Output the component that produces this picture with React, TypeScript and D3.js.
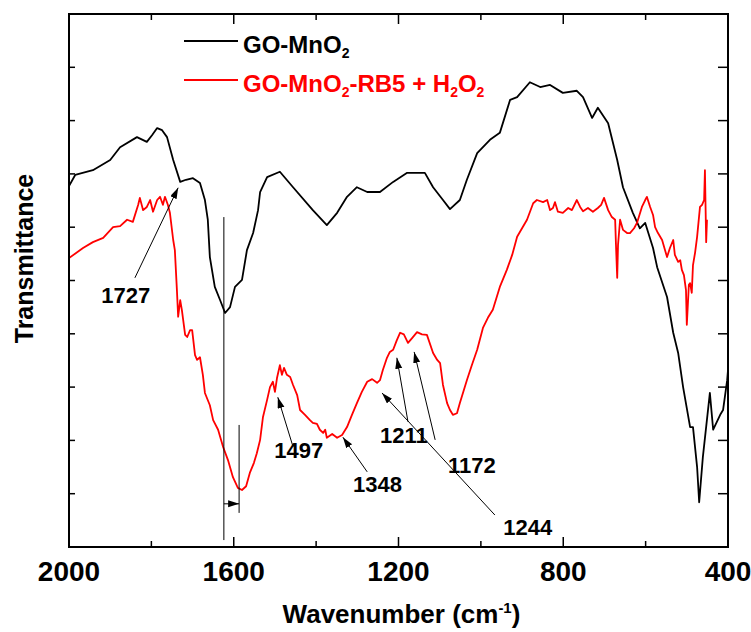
import React from "react";
import * as d3 from "d3";

// ---- data (wavenumber cm^-1, transmittance a.u.) ----
const blackWn = [2000,1985,1942,1900,1876,1835,1811,1798,1786,1774,1762,1747,1730,1716,1699,1682,1670,1663,1658,1646,1633,1621,1609,1597,1580,1568,1553,1541,1536,1519,1488,1456,1408,1374,1349,1325,1301,1276,1245,1213,1179,1165,1136,1116,1092,1075,1051,1034,1009,978,954,929,912,881,856,832,801,767,752,730,716,691,669,655,631,614,601,582,572,548,533,521,509,492,485,475,470,461,444,436,419,412,402,400];
const blackT = [67.7,69.8,70.7,72.6,75.0,76.9,76.0,77.3,78.6,78.2,76.9,72.6,68.5,68.9,69.2,68.3,65.1,61.4,54.4,48.8,46.3,43.9,45.0,48.8,50.1,55.7,58.9,63.2,66.6,69.4,70.4,67.5,63.2,60.4,62.7,65.7,67.5,66.6,66.6,68.5,70.2,70.2,70.2,67.5,65.1,63.4,65.1,68.9,73.9,76.4,77.7,83.9,84.4,87.2,86.3,86.7,85.2,85.6,84.4,80.5,82.4,79.5,72.6,67.5,62.7,59.8,60.8,56.1,52.5,46.9,40.2,36.4,30.0,22.5,22.5,15.0,8.4,16.9,28.9,22.0,24.8,25.7,31.3,33.2];

const redWn = [2000,1966,1942,1917,1893,1876,1859,1845,1832,1828,1820,1811,1803,1796,1786,1779,1772,1767,1760,1755,1747,1743,1738,1735,1730,1726,1718,1713,1706,1701,1694,1689,1682,1675,1670,1658,1650,1638,1626,1614,1602,1590,1580,1570,1561,1551,1544,1536,1529,1519,1512,1505,1500,1495,1488,1483,1478,1471,1463,1456,1446,1439,1427,1415,1408,1398,1391,1383,1378,1374,1361,1349,1337,1325,1313,1301,1289,1276,1264,1252,1245,1238,1228,1221,1213,1204,1196,1187,1177,1167,1155,1143,1131,1116,1106,1099,1092,1082,1075,1068,1058,1051,1034,1022,1009,995,983,971,954,937,924,912,900,888,873,864,849,839,832,825,820,813,801,788,779,767,759,752,740,728,716,708,701,691,682,674,672,669,667,662,655,645,638,628,621,609,601,597,589,582,577,570,560,553,548,541,533,529,521,516,512,507,502,500,495,492,488,485,480,475,468,463,458,456,453,451];
const redT = [54.2,56.1,57.2,58.0,60.0,60.2,61.4,61.0,64.2,65.5,63.2,63.8,65.1,62.9,65.1,65.7,64.2,65.7,64.2,62.7,57.6,55.7,48.2,43.2,46.3,44.5,39.8,39.4,40.7,40.7,36.0,35.1,35.6,32.3,28.9,26.6,23.8,22.0,18.8,16.3,13.1,11.1,10.7,11.4,13.9,15.8,17.6,20.1,24.4,27.6,30.0,31.0,29.1,31.7,34.1,32.3,33.6,32.3,31.9,30.4,28.5,25.7,24.8,23.8,23.3,23.1,22.0,21.4,22.0,20.5,21.2,20.5,21.0,22.5,24.8,27.0,29.1,31.0,31.5,30.8,31.3,33.2,35.5,36.6,37.0,38.8,40.2,39.9,38.3,39.2,40.3,39.9,39.8,36.4,35.1,34.5,30.4,27.0,25.7,24.8,25.1,27.0,31.3,34.1,37.0,41.1,43.0,44.5,48.8,52.0,54.8,58.2,59.8,61.4,64.5,65.1,64.7,65.1,63.2,63.6,64.7,62.9,62.7,63.6,63.2,65.1,63.8,63.0,63.6,62.9,63.6,64.2,65.5,63.2,61.9,61.4,56.7,50.5,56.7,61.4,59.5,58.9,58.9,59.8,60.8,63.8,65.1,65.7,63.8,62.3,60.0,58.9,57.6,55.7,54.4,56.1,57.6,54.8,53.5,53.8,52.0,51.0,48.2,41.7,49.2,49.5,47.7,52.9,55.2,58.2,63.8,64.2,65.1,70.7,57.2,61.4];

const xMajorTicks = [2000, 1600, 1200, 800, 400];
const xMinorTicks = [1800, 1400, 1000, 600];
const yTicks = [10, 20, 30, 40, 50, 60, 70, 80, 90];

// annotation arrows: [fromWn, fromT, toWn, toT]
const peakLabels = ["1727", "1497", "1348", "1244", "1211", "1172"];
const peakLabelWn = [1862, 1442, 1251, 886, 1187, 1022];
const peakLabelT = [45.8, 16.7, 10.3, 2.3, 19.5, 13.9];
const arrowFromWn = [1840, 1456, 1276, 966, 1177, 1111];
const arrowFromT = [50.5, 18.8, 14.1, 6.0, 23.5, 20.1];
const arrowToWn = [1735, 1493, 1335, 1240, 1204, 1162];
const arrowToT = [67.4, 28.1, 20.6, 28.9, 35.5, 36.6];

const shiftWn = [1624, 1587];
const shiftLineTop = [61.9, 22.9];
const shiftLineBottom = [1.3, 6.4];
const shiftArrowT = 8.1;

const FONT = "Arial, 'Liberation Sans', Helvetica, sans-serif";

export default function App() {
  const W = 751, H = 632;
  const L = 69, R = 728, T = 14, B = 547;
  const x = d3.scaleLinear().domain([2000, 400]).range([L, R]);
  const y = d3.scaleLinear().domain([0, 100]).range([B, T]);

  const line = d3.line<[number, number]>().x(d => x(d[0])).y(d => y(d[1]));
  const blackPath = line(blackWn.map((w, i) => [w, blackT[i]]) as [number, number][]) || "";
  const redPath = line(redWn.map((w, i) => [w, redT[i]]) as [number, number][]) || "";

  return (
    <svg width={W} height={H} style={{ position: "absolute", left: 0, top: 0, background: "#fff" }} fontFamily={FONT}>
      <defs>
        <marker id="ah" markerUnits="userSpaceOnUse" markerWidth={12} markerHeight={8} refX={11} refY={3.5} orient="auto">
          <path d="M0,0 L11,3.5 L0,7 z" fill="#000" />
        </marker>
        <clipPath id="clip"><rect x={L} y={T} width={R - L} height={B - T} /></clipPath>
      </defs>

      {/* curves */}
      <g clipPath="url(#clip)">
        <path d={blackPath} fill="none" stroke="#000" strokeWidth={1.8} strokeLinejoin="round" />
        <path d={redPath} fill="none" stroke="#ff0000" strokeWidth={1.8} strokeLinejoin="round" />
      </g>

      {/* shift marker lines */}
      {shiftWn.map((w, i) => (
        <line key={"sv" + i} x1={x(w)} x2={x(w)} y1={y(shiftLineTop[i])} y2={y(shiftLineBottom[i])} stroke="#000" strokeWidth={1} />
      ))}
      <line x1={x(shiftWn[0])} x2={x(shiftWn[1])} y1={y(shiftArrowT)} y2={y(shiftArrowT)} stroke="#000" strokeWidth={1} markerEnd="url(#ah)" />

      {/* peak arrows */}
      {peakLabels.map((lab, i) => (
        <line key={"a" + i} x1={x(arrowFromWn[i])} y1={y(arrowFromT[i])} x2={x(arrowToWn[i])} y2={y(arrowToT[i])}
          stroke="#000" strokeWidth={1} markerEnd="url(#ah)" />
      ))}
      {peakLabels.map((lab, i) => (
        <text key={"l" + i} x={x(peakLabelWn[i])} y={y(peakLabelT[i])} textAnchor="middle" fontSize={22} fontWeight="bold" fill="#000">{lab}</text>
      ))}

      {/* frame */}
      <rect x={L} y={T} width={R - L} height={B - T} fill="none" stroke="#000" strokeWidth={2} />

      {/* x ticks */}
      {xMajorTicks.map(t => (
        <g key={"xm" + t}>
          <line x1={x(t)} x2={x(t)} y1={B} y2={B - 10} stroke="#000" strokeWidth={1.5} />
          <line x1={x(t)} x2={x(t)} y1={T} y2={T + 10} stroke="#000" strokeWidth={1.5} />
          <text x={x(t)} y={581} textAnchor="middle" fontSize={28} fontWeight="bold" fill="#000">{t}</text>
        </g>
      ))}
      {xMinorTicks.map(t => (
        <g key={"xn" + t}>
          <line x1={x(t)} x2={x(t)} y1={B} y2={B - 6} stroke="#000" strokeWidth={1.5} />
          <line x1={x(t)} x2={x(t)} y1={T} y2={T + 6} stroke="#000" strokeWidth={1.5} />
        </g>
      ))}
      {/* y ticks */}
      {yTicks.map(t => (
        <g key={"y" + t}>
          <line x1={L} x2={L + 6} y1={y(t)} y2={y(t)} stroke="#000" strokeWidth={1.5} />
          <line x1={R} x2={R - 10} y1={y(t)} y2={y(t)} stroke="#000" strokeWidth={1.5} />
        </g>
      ))}

      {/* axis titles */}
      <text x={(L + R) / 2 + 3} y={623} textAnchor="middle" fontSize={26} fontWeight="bold" fill="#000">
        Wavenumber (cm<tspan dy={-10} fontSize={15}>-1</tspan><tspan dy={10}>)</tspan>
      </text>
      <text transform={`translate(33, ${(T + B) / 2 - 22}) rotate(-90)`} textAnchor="middle" fontSize={25} fontWeight="bold" fill="#000">Transmittance</text>

      {/* legend */}
      <line x1={184} x2={238} y1={41} y2={41} stroke="#000" strokeWidth={1.8} />
      <text x={243} y={53} fontSize={24} fontWeight="bold" fill="#000">
        GO-MnO<tspan dy={5} fontSize={14}>2</tspan>
      </text>
      <line x1={184} x2={238} y1={80} y2={80} stroke="#ff0000" strokeWidth={1.8} />
      <text x={243} y={92} fontSize={24} fontWeight="bold" fill="#ff0000">
        GO-MnO<tspan dy={5} fontSize={14}>2</tspan><tspan dy={-5}>-RB5 + H</tspan><tspan dy={5} fontSize={14}>2</tspan><tspan dy={-5}>O</tspan><tspan dy={5} fontSize={14}>2</tspan>
      </text>
    </svg>
  );
}
